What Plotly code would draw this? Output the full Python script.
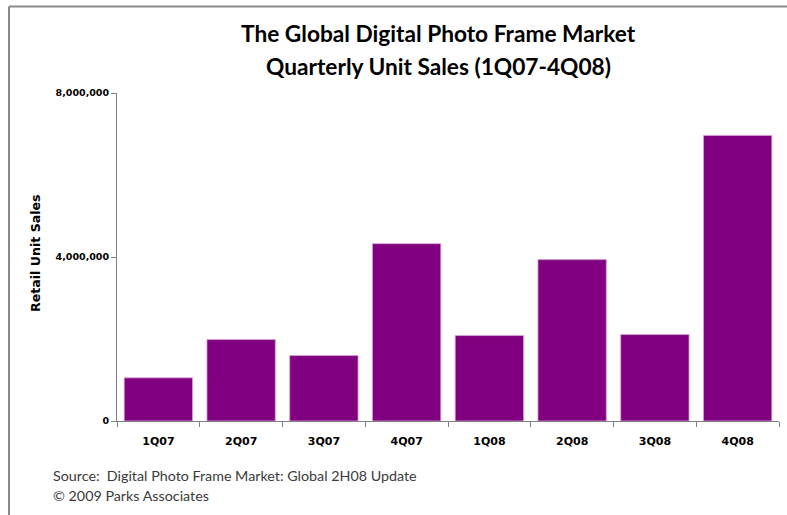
import plotly.graph_objects as go

quarters = ["1Q07", "2Q07", "3Q07", "4Q07", "1Q08", "2Q08", "3Q08", "4Q08"]
unit_sales = [1053000, 1986000, 1596000, 4326000, 2084000, 3936000, 2108000, 6966000]
y_ticks = [0, 4000000, 8000000]
title_lines = ["The Global Digital Photo Frame Market", "Quarterly Unit Sales (1Q07-4Q08)"]
source_lines = ["Source:  Digital Photo Frame Market: Global 2H08 Update", "© 2009 Parks Associates"]

W, H = 787, 515
L, R, T, B = 117, 8, 93, 94
PW, PH = W - L - R, H - T - B


def px_x(x):
    return (x - L) / PW


def px_y(y):
    return 1 - (y - T) / PH


fig = go.Figure()
fig.add_trace(go.Bar(
    x=quarters, y=unit_sales,
    marker=dict(color="#800080", line=dict(color="#d6a6d6", width=0.8)),
    hoverinfo="x+y",
))

axis_grey = "#808080"
fig.update_layout(
    width=W, height=H,
    margin=dict(l=L, r=R, t=T, b=B, autoexpand=False),
    paper_bgcolor="white", plot_bgcolor="white",
    showlegend=False,
    bargap=0.174,
    font=dict(family="DejaVu Sans", color="black"),
    xaxis=dict(
        type="category",
        showline=True, linecolor=axis_grey, linewidth=1,
        ticks="outside", tickson="boundaries", ticklen=5, tickcolor=axis_grey,
        ticklabelstandoff=10,
        tickfont=dict(family="DejaVu Sans", size=11, weight="bold", color="black"),
        showgrid=False,
    ),
    yaxis=dict(
        range=[0, 8000000],
        tickvals=y_ticks, tickformat=",",
        showline=True, linecolor=axis_grey, linewidth=1,
        ticks="outside", ticklen=5, tickcolor=axis_grey,
        tickfont=dict(family="DejaVu Sans", size=9.5, weight="bold", color="black"),
        showgrid=False, zeroline=False,
    ),
)

title_font = dict(family="Lato", size=22.7, weight="bold", color="black")
fig.add_annotation(
    text=title_lines[0], xref="paper", yref="paper",
    x=px_x(438), y=px_y(34), xanchor="center", yanchor="middle",
    showarrow=False, font=title_font,
)
fig.add_annotation(
    text=title_lines[1], xref="paper", yref="paper",
    x=px_x(438), y=px_y(66), xanchor="center", yanchor="middle",
    showarrow=False, font=title_font,
)

fig.add_annotation(
    text="Retail Unit Sales", xref="paper", yref="paper",
    x=px_x(35), y=px_y(253), xanchor="center", yanchor="middle", textangle=-90,
    showarrow=False, font=dict(family="DejaVu Sans", size=12.6, weight="bold", color="black"),
)

source_font = dict(family="Lato", size=14.3, color="#3a3a3a")
fig.add_annotation(
    text=source_lines[0], xref="paper", yref="paper",
    x=px_x(51), y=px_y(475), xanchor="left", yanchor="middle",
    showarrow=False, font=source_font,
)
fig.add_annotation(
    text=source_lines[1], xref="paper", yref="paper",
    x=px_x(51), y=px_y(495), xanchor="left", yanchor="middle",
    showarrow=False, font=source_font,
)

frame = dict(color="#8a8a8a", width=2)
fig.add_shape(type="line", xref="paper", yref="paper",
              x0=px_x(9), y0=px_y(6.5), x1=px_x(800), y1=px_y(6.5), line=frame)
fig.add_shape(type="line", xref="paper", yref="paper",
              x0=px_x(9), y0=px_y(6.5), x1=px_x(9), y1=px_y(530), line=frame)

fig.write_html("out.html", config={"displayModeBar": False},
               post_script="document.body.style.margin='0';")
